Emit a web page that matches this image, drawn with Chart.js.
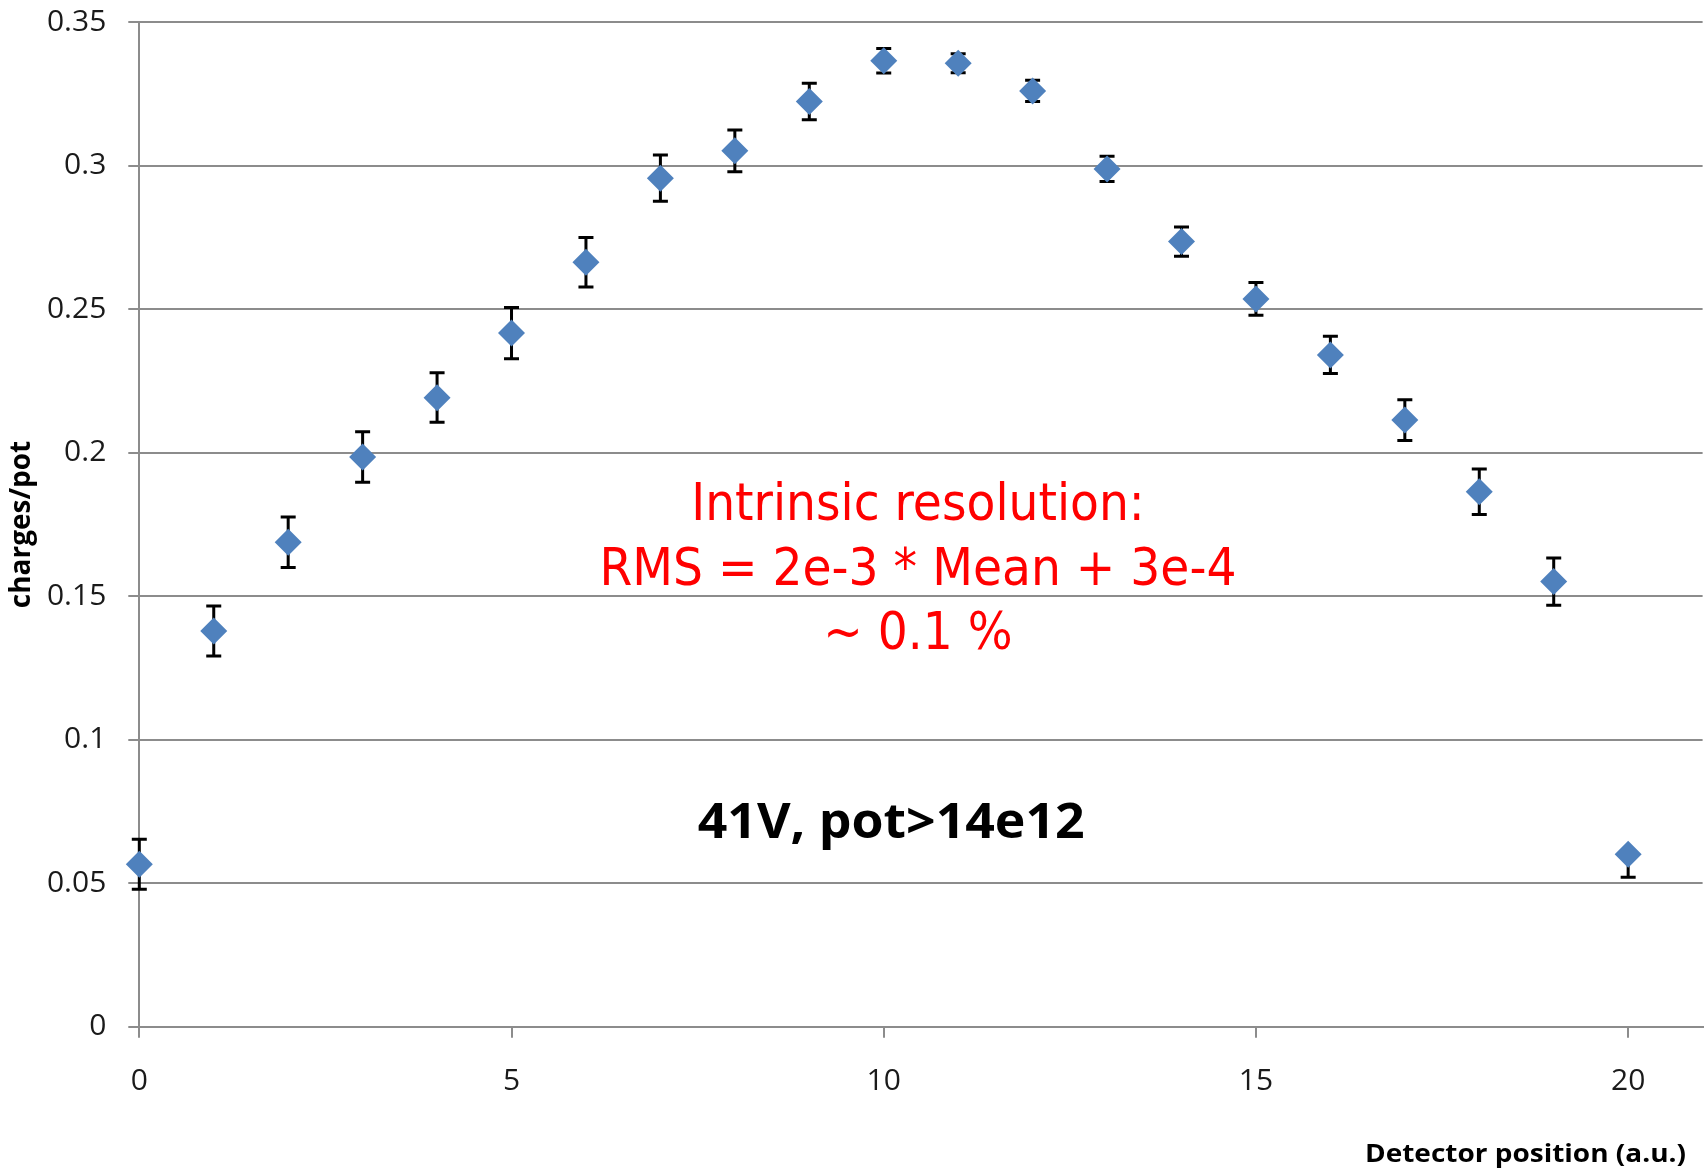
<!DOCTYPE html>
<html>
<head>
<meta charset="utf-8">
<script src="https://cdn.jsdelivr.net/npm/chart.js@4.4.1/dist/chart.umd.min.js"></script>
<style>
  html, body { margin: 0; padding: 0; background: #fff; }
  #wrap { width: 1708px; height: 1169px; }
</style>
</head>
<body>
<div id="wrap"><canvas id="chart" width="1708" height="1169"></canvas></div>
<script>
// data
const positions = [0, 1, 2, 3, 4, 5, 6, 7, 8, 9, 10, 11, 12, 13, 14, 15, 16, 17, 18, 19, 20];
const chargesPerPot = [0.0566, 0.1379, 0.1688, 0.1985, 0.2192, 0.2417, 0.2664, 0.2957, 0.3052, 0.3224, 0.3366,
                       0.3357, 0.3261, 0.2989, 0.2736, 0.2536, 0.2341, 0.2114, 0.1864, 0.1551, 0.0601];
const errUp   = [0.0087, 0.0087, 0.0088, 0.0088, 0.0087, 0.0089, 0.0086, 0.0081, 0.0073, 0.0064, 0.0043,
                 0.0033, 0.0037, 0.0044, 0.0051, 0.0057, 0.0065, 0.0071, 0.0079, 0.0082, 0];
const errDown = [0.0087, 0.0087, 0.0088, 0.0088, 0.0086, 0.0089, 0.0086, 0.0081, 0.0073, 0.0064, 0.0043,
                 0.0033, 0.0037, 0.0044, 0.0051, 0.0057, 0.0065, 0.0071, 0.0079, 0.0082, 0.0080];
const xTicks = [0, 5, 10, 15, 20];
const yTicks = [0, 0.05, 0.1, 0.15, 0.2, 0.25, 0.3, 0.35];

const yTitle = 'charges/pot';
const xTitle = 'Detector position (a.u.)';
const resolutionLines = ['Intrinsic resolution:', 'RMS = 2e-3 * Mean + 3e-4', '~ 0.1 %'];
const runLabel = '41V, pot>14e12';

const GRID = '#8c8c8c';

// draw text squeezed/stretched to a given width
function fitText(ctx, text, x, y, width, align) {
  const w = ctx.measureText(text).width;
  ctx.save();
  ctx.translate(x, y);
  ctx.scale(width / w, 1);
  ctx.textAlign = align;
  ctx.fillText(text, 0, 0);
  ctx.restore();
}

// error bars, drawn under the markers
const errorBars = {
  id: 'errorBars',
  beforeDatasetsDraw(chart) {
    const {ctx, scales: {x, y}} = chart;
    ctx.save();
    ctx.strokeStyle = '#000';
    ctx.lineWidth = 3;
    positions.forEach((p, i) => {
      const px = x.getPixelForValue(p);
      const top = y.getPixelForValue(chargesPerPot[i] + errUp[i]);
      const bot = y.getPixelForValue(chargesPerPot[i] - errDown[i]);
      ctx.beginPath();
      ctx.moveTo(px, top);
      ctx.lineTo(px, bot);
      if (errUp[i] > 0) { ctx.moveTo(px - 7.5, top); ctx.lineTo(px + 7.5, top); }
      if (errDown[i] > 0) { ctx.moveTo(px - 7.5, bot); ctx.lineTo(px + 7.5, bot); }
      ctx.stroke();
    });
    ctx.restore();
  }
};

// text boxes on the plot + x title
const notes = {
  id: 'notes',
  afterDraw(chart) {
    const {ctx, scales: {x, y}} = chart;
    ctx.save();
    ctx.textBaseline = 'alphabetic';

    // red text block
    ctx.fillStyle = '#ff0000';
    ctx.font = '52px "DejaVu Sans Condensed", "DejaVu Sans", sans-serif';
    ctx.textAlign = 'center';
    const sx = 637 / ctx.measureText(resolutionLines[1]).width;
    const cx = x.getPixelForValue(10.46);
    const by = y.getPixelForValue(0.1766);
    resolutionLines.forEach((t, k) => {
      ctx.save();
      ctx.translate(cx, by + k * 64.7);
      ctx.scale(sx, 1);
      ctx.fillText(t, 0, 0);
      ctx.restore();
    });

    // black label
    ctx.fillStyle = '#000';
    ctx.font = 'bold 49px "Open Sans", sans-serif';
    fitText(ctx, runLabel, x.getPixelForValue(10.1), y.getPixelForValue(0.0657), 387, 'center');

    // x axis title, right side under the axis
    ctx.font = 'bold 25.5px "Open Sans", sans-serif';
    fitText(ctx, xTitle, x.right - 16.6, chart.height - 7, 321, 'right');

    ctx.restore();
  }
};

const ctx = document.getElementById('chart').getContext('2d');

const chart = new Chart(ctx, {
  type: 'scatter',
  data: {
    datasets: [{
      data: positions.map((p, i) => ({x: p, y: chargesPerPot[i]})),
      pointStyle: 'rectRot',
      pointRadius: 13.5,
      pointHoverRadius: 13.5,
      backgroundColor: '#4F81BD',
      borderColor: '#4F81BD',
      borderWidth: 0,
      showLine: false,
      clip: false
    }]
  },
  options: {
    responsive: false,
    animation: false,
    layout: { autoPadding: false, padding: { top: 22.3, right: 5.4, left: 0, bottom: 0 } },
    plugins: {
      legend: { display: false },
      tooltip: { enabled: false }
    },
    scales: {
      x: {
        type: 'linear',
        min: 0,
        max: 21,
        afterBuildTicks: s => { s.ticks = xTicks.map(v => ({value: v})); },
        afterFit: s => { s.height = 142.3; s.paddingLeft = 0; s.paddingRight = 0; },
        grid: { drawOnChartArea: false, drawTicks: true, tickLength: 11, color: GRID, lineWidth: 2 },
        border: { display: true, color: GRID, width: 2 },
        ticks: {
          padding: 26,
          color: '#1a1a1a',
          font: { family: 'Open Sans', size: 30 },
          maxRotation: 0
        }
      },
      y: {
        min: 0,
        max: 0.35,
        afterBuildTicks: s => { s.ticks = yTicks.map(v => ({value: v})); },
        afterFit: s => { s.width = 139.3; s.paddingTop = 0; s.paddingBottom = 0; },
        grid: { color: GRID, lineWidth: 2, tickLength: 11, drawTicks: true },
        border: { display: true, color: GRID, width: 2 },
        ticks: {
          padding: 22,
          color: '#1a1a1a',
          font: { family: 'Open Sans', size: 30 },
          callback: v => String(v)
        },
        title: {
          display: true,
          text: yTitle,
          color: '#000',
          font: { family: 'Open Sans', weight: 'bold', size: 28, lineHeight: 1.2 },
          padding: { top: 5, bottom: 0 }
        }
      }
    }
  },
  plugins: [errorBars, notes]
});
</script>
</body>
</html>
